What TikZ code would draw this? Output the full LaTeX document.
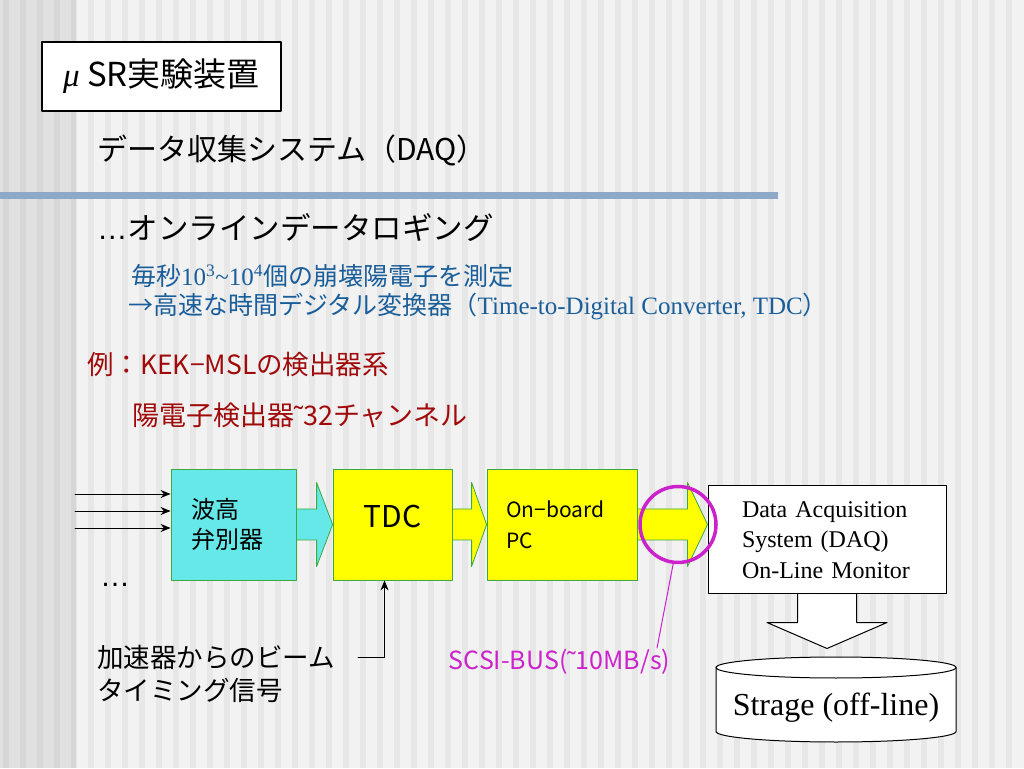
\documentclass[tikz,border=0pt]{standalone}
\usepackage{fontspec}
\setmainfont{Noto Sans CJK JP}
\newfontfamily\tm{Liberation Serif}
\newfontfamily\ls{Liberation Sans}
\usetikzlibrary{calc,arrows.meta}
\definecolor{bgA}{HTML}{F2F2F2}
\definecolor{bgB}{HTML}{E7E7E7}
\definecolor{barc}{HTML}{8CAAC8}
\definecolor{cyanc}{HTML}{66E8E8}
\definecolor{yel}{HTML}{FFFF00}
\definecolor{grn}{HTML}{3CAA3C}
\definecolor{blu}{HTML}{1A5E9A}
\definecolor{dred}{HTML}{A00A0A}
\definecolor{mag}{HTML}{CC22CC}
\begin{document}
\begin{tikzpicture}[x=1pt,y=1pt,>={Stealth[length=10pt,width=8pt]},line cap=round,line join=round,
txt/.style={anchor=west,inner sep=0pt},
box/.style={draw=grn,line width=.8pt,minimum height=111pt,inner ysep=0pt,align=left},
arr/.style={draw=grn,line width=.8pt}]
% background
\useasboundingbox (0,0) rectangle (1024,768);
\fill[bgA] (0,0) rectangle (1024,768);
\foreach \x in {3,20,...,1020} \fill[bgB] (\x,0) rectangle ++(6,768);
\fill[black,opacity=.07] (0,0) rectangle (76,768);
\fill[barc] (0,569) rectangle (778,576);
% texts
\path (161.5,691.5) node[draw,line width=1.2pt,fill=white,minimum width=239pt,minimum height=69pt,font=\fontsize{33}{38}\selectfont](title){{\tm\itshape μ} SR実験装置}
(97,618) node[txt,font=\fontsize{30}{34}\selectfont](head){データ収集システム（DAQ）}
(97,540) node[txt,font=\fontsize{30.5}{34}\selectfont](sub){{\ls …}オンラインデータロギング}
(131,492) node[txt,text=blu,font=\fontsize{25}{30}\selectfont](tdc1){毎秒{\tm 10\textsuperscript{3}\textasciitilde10\textsuperscript{4}}個の崩壊陽電子を測定}
(128,461) node[txt,text=blu,font=\fontsize{25}{30}\selectfont](tdc2){→高速な時間デジタル変換器（{\tm Time-to-Digital Converter, TDC}）}
(87,403) node[txt,text=dred,font=\fontsize{26.5}{32}\selectfont](kek){例：KEK−MSLの検出器系}
(132,353) node[txt,text=dred,font=\fontsize{27}{32}\selectfont](chan){陽電子検出器{\ls ˜}32チャンネル};
% boxes
\path (233.5,243.5) node[box,fill=cyanc,minimum width=125pt,text width=85pt,inner xsep=20pt,font=\fontsize{24}{30}\selectfont](disc){波高\\弁別器}
(392.5,243.5) node[box,fill=yel,minimum width=119pt,text depth=17pt,font=\fontsize{30}{34}\selectfont](tdc){TDC}
(562,243.5) node[box,fill=yel,minimum width=150pt,text width=112pt,inner xsep=19pt,font=\fontsize{21}{31}\selectfont](pc){On−board\\PC}
(827,228) node[draw,line width=1pt,fill=white,minimum width=238pt,minimum height=108pt,text width=170pt,inner xsep=34pt,align=left,font=\tm\fontsize{24}{30.5}\selectfont](daq){Data Acquisition\\System (DAQ)\\On-Line Monitor};
\foreach \a/\b/\h/\c in {disc/tdc/16pt/cyanc,tdc/pc/15pt/yel,pc/daq/20pt/yel}
\draw[arr,fill=\c] let \p1=(\a.east),\p2=(\b.west) in
(\x1,\y1+15.5pt) -- (\x2-\h,\y1+15.5pt) -- (\x2-\h,\y1+42pt) -- (\x2,\y1)
-- (\x2-\h,\y1-42pt) -- (\x2-\h,\y1-15.5pt) -- (\x1,\y1-15.5pt) -- cycle;
% storage
\draw[line width=1pt,fill=white] let \p1=(daq.south) in (\x1-29.5pt,\y1) -- (\x1-29.5pt,\y1-28pt) -- (\x1-60pt,\y1-28pt)
-- (\x1,\y1-54pt) -- (\x1+60pt,\y1-28pt) -- (\x1+29.5pt,\y1-28pt) -- (\x1+29.5pt,\y1);
\draw[line width=1pt,fill=white] (716,100.5) -- (716,36.5) arc[start angle=180,end angle=360,x radius=120pt,y radius=10.5pt]
-- (956,100.5) arc[start angle=0,end angle=180,x radius=120pt,y radius=10.5pt] -- cycle;
\draw[line width=1pt] (716,100.5) arc[start angle=180,end angle=360,x radius=120pt,y radius=10.5pt];
\node[font=\tm\fontsize{32}{36}\selectfont](stor) at (836,60) {Strage (off-line)};
% inputs
\foreach \y in {274,257,240}{
\coordinate (in\y) at (75,\y);
\draw[->,line width=.8pt] (in\y) -- (in\y -| disc.west);}
\node[font=\ls\fontsize{30}{34}\selectfont](dots) at (115,183) {…};
\node[txt,align=left,font=\fontsize{26.5}{33}\selectfont](beam) at (97,94.5) {加速器からのビーム\\タイミング信号};
\coordinate (bt) at (358,111);
\draw[->,line width=.8pt] (bt) -| ([xshift=-8pt]tdc.south);
% SCSI bus
\node[circle,draw=mag,line width=3.5pt,minimum size=76pt,inner sep=0pt](ring) at (678,243.5) {};
\node[text=mag,font=\fontsize{25}{28}\selectfont](scsi) at (559.5,106) {SCSI-BUS({\ls ˜}10MB/s)};
\coordinate (bus) at (657,120);
\draw[mag,line width=1pt] (ring.263) -- (bus);
\end{tikzpicture}
\end{document}
